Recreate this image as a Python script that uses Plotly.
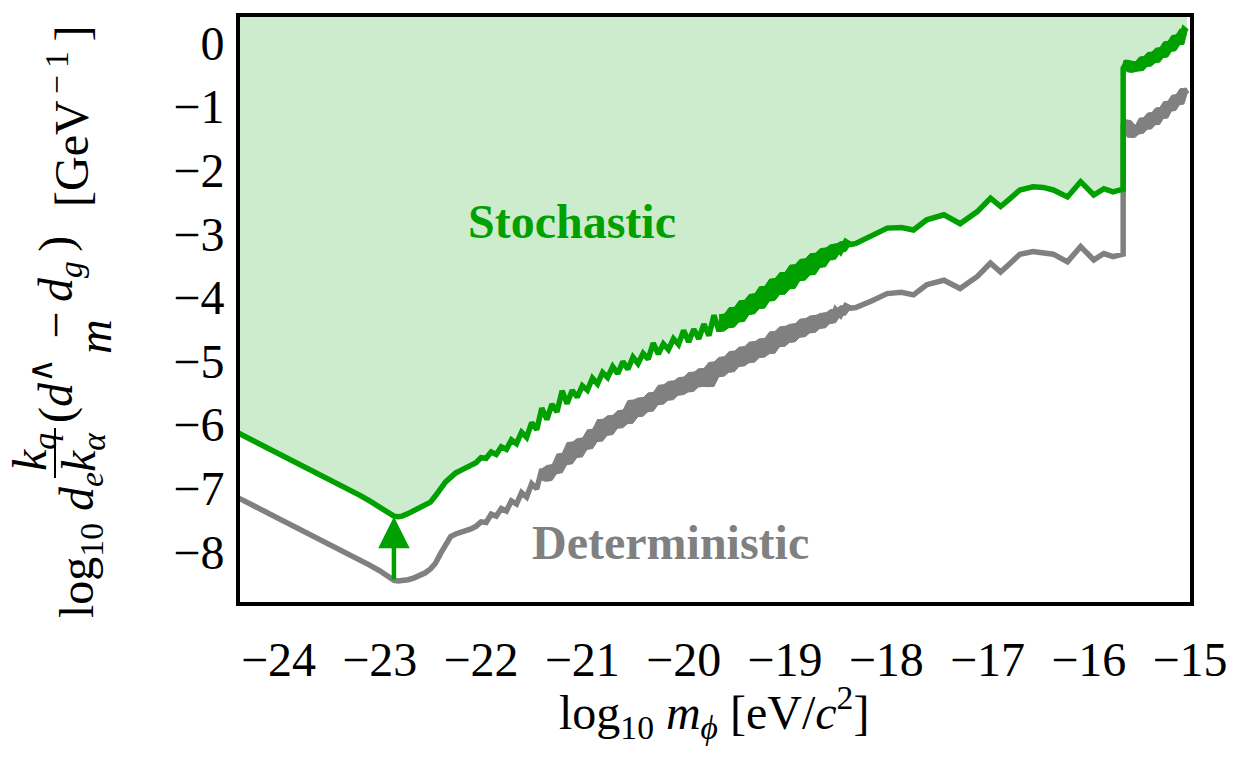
import plotly.graph_objects as go

# ---- data: log10 of the coupling bound vs log10 of the scalar mass ----
mass_low = [-24.4, -24.2, -24.0, -23.8, -23.6, -23.4, -23.2, -23.1, -23.0, -22.95,
            -22.9, -22.86, -22.82, -22.78, -22.72, -22.66, -22.6, -22.55, -22.5, -22.45,
            -22.4, -22.35, -22.3, -22.25, -22.2, -22.15, -22.1, -22.05]
stoch_low = [-6.13, -6.29, -6.45, -6.61, -6.77, -6.94, -7.11, -7.20, -7.29, -7.35,
             -7.40, -7.44, -7.45, -7.44, -7.40, -7.35, -7.31, -7.28, -7.22, -7.12,
             -7.00, -6.90, -6.83, -6.76, -6.72, -6.68, -6.65, -6.60]
determ_low = [-7.15, -7.31, -7.47, -7.63, -7.79, -7.95, -8.12, -8.21, -8.30, -8.36,
              -8.41, -8.45, -8.46, -8.46, -8.44, -8.41, -8.37, -8.33, -8.27, -8.18,
              -8.03, -7.88, -7.76, -7.72, -7.70, -7.66, -7.64, -7.60]

mass_ramp = [-22.00, -21.95, -21.90, -21.85, -21.80, -21.75, -21.70, -21.65, -21.60, -21.55,
             -21.50, -21.45, -21.40, -21.35, -21.30, -21.25, -21.20, -21.15, -21.10, -21.05,
             -21.00, -20.95, -20.90, -20.85, -20.80, -20.75, -20.70, -20.65, -20.60, -20.55,
             -20.50, -20.45, -20.40, -20.35, -20.30, -20.25, -20.20, -20.15, -20.10, -20.05,
             -20.00, -19.95, -19.90, -19.85, -19.80, -19.75, -19.70, -19.65, -19.60, -19.55,
             -19.50, -19.45, -19.40, -19.35, -19.30, -19.25, -19.20, -19.15, -19.10, -19.05,
             -19.00, -18.95, -18.90, -18.85, -18.80, -18.75, -18.70, -18.65, -18.60, -18.55,
             -18.50, -18.45, -18.40, -18.35]
stoch_ramp = [-6.52, -6.53, -6.43, -6.47, -6.35, -6.39, -6.24, -6.30, -6.12, -6.20,
              -5.97, -6.08, -5.74, -5.92, -5.68, -5.80, -5.47, -5.67, -5.46, -5.57,
              -5.39, -5.46, -5.27, -5.36, -5.18, -5.26, -5.09, -5.20, -5.01, -5.13,
              -4.94, -5.04, -4.88, -4.97, -4.72, -4.89, -4.73, -4.82, -4.65, -4.74,
              -4.52, -4.70, -4.50, -4.65, -4.42, -4.60, -4.28, -4.53, -4.27, -4.47,
              -4.16, -4.38, -4.05, -4.26, -3.95, -4.17, -3.83, -4.05, -3.71, -3.95,
              -3.61, -3.86, -3.49, -3.73, -3.40, -3.64, -3.31, -3.52, -3.23, -3.40,
              -3.17, -3.28, -3.12, -3.17]
determ_ramp = [-7.53, -7.54, -7.41, -7.44, -7.32, -7.36, -7.20, -7.25, -7.07, -7.14,
               -6.93, -7.01, -6.70, -6.88, -6.64, -6.76, -6.46, -6.62, -6.28, -6.51,
               -6.22, -6.38, -6.08, -6.26, -5.92, -6.16, -5.86, -6.05, -5.78, -5.98,
               -5.62, -5.87, -5.58, -5.79, -5.50, -5.68, -5.38, -5.61, -5.32, -5.53,
               -5.26, -5.48, -5.18, -5.40, -5.12, -5.40, -5.02, -5.24, -4.94, -5.17,
               -4.85, -5.08, -4.78, -5.02, -4.70, -4.94, -4.65, -4.88, -4.54, -4.77,
               -4.46, -4.70, -4.42, -4.62, -4.34, -4.55, -4.29, -4.48, -4.25, -4.40,
               -4.19, -4.28, -4.13, -4.17]

mass_steps = [-18.30, -18.15, -17.99, -17.85, -17.73, -17.60, -17.43, -17.27, -17.10, -16.97,
              -16.87, -16.78, -16.68, -16.55, -16.45, -16.35, -16.21, -16.08, -15.95, -15.85,
              -15.76, -15.69, -15.66]
stoch_steps = [-3.15, -3.04, -2.91, -2.90, -2.94, -2.78, -2.70, -2.84, -2.65, -2.44,
               -2.57, -2.45, -2.31, -2.26, -2.27, -2.31, -2.42, -2.18, -2.39, -2.29,
               -2.34, -2.31, -2.30]
determ_steps = [-4.16, -4.06, -3.94, -3.92, -3.96, -3.80, -3.73, -3.86, -3.67, -3.46,
                -3.60, -3.47, -3.32, -3.28, -3.29, -3.32, -3.44, -3.20, -3.41, -3.31,
                -3.36, -3.32, -3.32]

mass_high = [-15.66, -15.62, -15.58, -15.54, -15.50, -15.46, -15.42, -15.38, -15.34, -15.30,
             -15.26, -15.22, -15.18, -15.14, -15.10, -15.06, -15.03]
stoch_high = [-0.40, -0.28, -0.45, -0.30, -0.43, -0.22, -0.36, -0.15, -0.30, -0.08,
              -0.22, 0.02, -0.12, 0.12, -0.02, 0.22, 0.18]
determ_high = [-1.30, -1.22, -1.48, -1.30, -1.42, -1.18, -1.35, -1.10, -1.28, -1.02,
               -1.18, -0.92, -1.06, -0.82, -0.96, -0.72, -0.80]

x_ticks = [-24, -23, -22, -21, -20, -19, -18, -17, -16, -15]
y_ticks = [0, -1, -2, -3, -4, -5, -6, -7, -8]

# arrow from the deterministic minimum up to the stochastic minimum
arrow_mass = -22.86
arrow_from = -8.46
arrow_to = -7.45

mass = mass_low + mass_ramp + mass_steps + mass_high
stochastic = stoch_low + stoch_ramp + stoch_steps + stoch_high
deterministic = determ_low + determ_ramp + determ_steps + determ_high

# ---- styling ----
X_RANGE = [-24.38, -15.0]
Y_RANGE = [-8.79, 0.41]
GREEN = "#00a000"
GRAY = "#808080"
FILL = "#cdeccd"
FONT = "Liberation Serif"
FS = 48
LW = 5.5

# plot frame in pixels
PL, PR, PT, PB = 240, 1190, 17, 602

# first index of the densely oscillating stretch of each ramp
STOCH_DENSE_FROM = 47
DETERM_DENSE_FROM = 12


def paper(px, py):
    return (px - PL) / (PR - PL), (PB - py) / (PB - PT)


def jitter_band(xs, ys):
    """Polygon spanning the local min/max of a rapidly oscillating stretch."""
    n = len(ys)
    upper = [max(ys[max(i - 1, 0):i + 2]) for i in range(n)]
    lower = [min(ys[max(i - 1, 0):i + 2]) for i in range(n)]
    return xs + xs[::-1], upper + lower[::-1]


fig = go.Figure()

# excluded region above the stochastic bound
fig.add_trace(go.Scatter(
    x=mass + [mass[-1], mass[0]],
    y=stochastic + [Y_RANGE[1] + 1, Y_RANGE[1] + 1],
    fill="toself", fillcolor=FILL, mode="lines",
    line=dict(width=0), hoverinfo="skip", showlegend=False))

bands = [
    (mass_ramp[DETERM_DENSE_FROM:], determ_ramp[DETERM_DENSE_FROM:], GRAY),
    (mass_high, determ_high, GRAY),
    (mass_ramp[STOCH_DENSE_FROM:], stoch_ramp[STOCH_DENSE_FROM:], GREEN),
    (mass_high, stoch_high, GREEN),
]
for xs, ys, col in bands:
    bx_, by_ = jitter_band(xs, ys)
    fig.add_trace(go.Scatter(x=bx_, y=by_, fill="toself", fillcolor=col, mode="lines",
                             line=dict(color=col, width=1), hoverinfo="skip",
                             showlegend=False))

fig.add_trace(go.Scatter(x=mass, y=deterministic, mode="lines",
                         line=dict(color=GRAY, width=LW), showlegend=False))
fig.add_trace(go.Scatter(x=mass, y=stochastic, mode="lines",
                         line=dict(color=GREEN, width=LW), showlegend=False))

annotations = [
    dict(x=arrow_mass, y=arrow_to, ax=arrow_mass, ay=arrow_from,
         xref="x", yref="y", axref="x", ayref="y", text="", showarrow=True,
         arrowhead=2, arrowsize=1.4, arrowwidth=4.5, arrowcolor=GREEN),
    dict(x=-21.10, y=-2.81, xref="x", yref="y", text="<b>Stochastic</b>",
         showarrow=False, font=dict(family=FONT, size=FS, color=GREEN)),
    dict(x=-20.13, y=-7.86, xref="x", yref="y", text="<b>Deterministic</b>",
         showarrow=False, font=dict(family=FONT, size=FS, color=GRAY)),
]

# x-axis title
tx, ty = paper(714, 712)
annotations.append(dict(
    x=tx, y=ty, xref="paper", yref="paper", showarrow=False,
    xanchor="center", yanchor="middle",
    text="log<sub>10</sub> <i>m</i><sub><i>ϕ</i></sub> [eV/<i>c</i><sup>2</sup>]",
    font=dict(family=FONT, size=FS, color="black")))

# y-axis title, assembled from rotated pieces
y_pieces = [
    ("log<sub>10</sub> <i>d</i><sub><i>e</i></sub>", 80, 545),
    ("<i>k</i><sub><i>q</i></sub>", 33, 452),
    ("<i>k</i><sub><i>α</i></sub>", 82, 452),
    ("(<i>d</i><sup>∧</sup>\u2009\u2009−\u2009<i>d</i><sub><i>g</i></sub>\u2009)", 55, 330),
    ("<i>m</i>", 94, 337),
    ("[GeV<sup>\u2009−\u20091</sup>\u2009]", 68, 117),
]
for txt, px, py in y_pieces:
    ax_, ay_ = paper(px, py)
    annotations.append(dict(
        x=ax_, y=ay_, xref="paper", yref="paper", showarrow=False,
        text=txt, textangle=-90, xanchor="center", yanchor="middle",
        font=dict(family=FONT, size=FS, color="black")))

fx, fy0 = paper(55, 428)
_, fy1 = paper(55, 478)
shapes = [dict(type="line", xref="paper", yref="paper", x0=fx, x1=fx,
               y0=fy0, y1=fy1, line=dict(color="black", width=2))]

axis_common = dict(showgrid=False, zeroline=False, showline=True, linewidth=4,
                   linecolor="black", mirror=True, ticks="",
                   tickfont=dict(family=FONT, size=FS, color="black"))

fig.update_layout(
    width=1247, height=761,
    margin=dict(l=PL, r=1247 - PR, t=PT, b=761 - PB),
    paper_bgcolor="white", plot_bgcolor="white",
    xaxis=dict(range=X_RANGE, tickvals=x_ticks, ticklabelstandoff=12, **axis_common),
    yaxis=dict(range=Y_RANGE, tickvals=y_ticks, ticklabelstandoff=2, **axis_common),
    annotations=annotations, shapes=shapes,
)

fig.write_html("out.html")
